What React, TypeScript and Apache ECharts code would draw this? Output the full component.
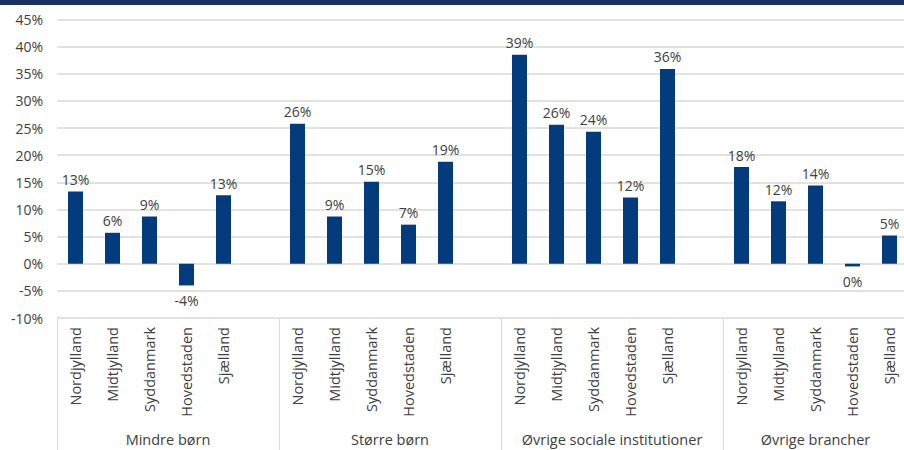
import React, { useEffect, useRef } from "react";
import * as echarts from "echarts";

const groups = ["Mindre børn", "Større børn", "Øvrige sociale institutioner", "Øvrige brancher"];
const regions = ["Nordjylland", "Midtjylland", "Syddanmark", "Hovedstaden", "Sjælland"];
const mindreBorn = [13.3, 5.7, 8.7, -4.0, 12.6];
const storreBorn = [25.8, 8.7, 15.1, 7.2, 18.8];
const ovrigeSociale = [38.5, 25.6, 24.3, 12.2, 35.9];
const ovrigeBrancher = [17.8, 11.5, 14.4, -0.5, 5.2];
const yTicks = { min: -10, max: 45, interval: 5 };

const FONT = "Open Sans";
const TEXT = "#404040";
const GRID = "#d9d9d9";
const BAR = "#043b7c";

export default function App() {
  const ref = useRef<HTMLDivElement>(null);
  useEffect(() => {
    if (!ref.current) return;
    const chart = echarts.init(ref.current, undefined, { renderer: "svg" });
    const valuesByGroup = [mindreBorn, storreBorn, ovrigeSociale, ovrigeBrancher];
    const cats: string[] = [];
    const data: any[] = [];
    const bounds: number[] = [0];
    const centers: number[] = [];
    valuesByGroup.forEach((vals, g) => {
      const start = cats.length;
      regions.forEach((r, i) => {
        cats.push(r);
        const v = vals[i];
        data.push({
          value: v,
          label: { position: v < 0 ? "bottom" : "top", distance: v < 0 ? 8 : 5 },
        });
      });
      if (g < valuesByGroup.length - 1) {
        cats.push("");
        data.push("-");
      }
      const end = cats.length;
      bounds.push(end);
      centers.push((start + end) / 2);
    });
    const total = cats.length;
    chart.setOption({
      animation: false,
      graphic: [
        { type: "rect", shape: { x: 0, y: 0, width: 904, height: 5 }, style: { fill: "#1c3161" } },
      ],
      grid: {
        left: 57,
        top: 19.5,
        width: 851,
        height: 298.5,
        containLabel: false,
        outerBoundsMode: "none",
      },
      xAxis: [
        {
          type: "category",
          data: cats,
          position: "bottom",
          axisLine: { show: false },
          axisTick: { show: false },
          axisLabel: {
            interval: 0,
            rotate: 90,
            margin: 9,
            fontFamily: FONT,
            fontSize: 14.5,
            color: TEXT,
          },
        },
        {
          type: "value",
          min: 0,
          max: total,
          position: "bottom",
          splitLine: { show: false },
          axisLine: { show: false },
          axisTick: {
            show: true,
            customValues: bounds,
            length: 132,
            lineStyle: { color: GRID, width: 1 },
          },
          axisLabel: {
            customValues: centers,
            margin: 114,
            fontFamily: FONT,
            fontSize: 14.5,
            color: TEXT,
            showMinLabel: true,
            showMaxLabel: true,
            formatter: (v: number) => {
              const idx = centers.findIndex((c) => Math.abs(c - v) < 1e-6);
              return idx >= 0 ? groups[idx] : "";
            },
          },
        },
      ],
      yAxis: {
        type: "value",
        min: yTicks.min,
        max: yTicks.max,
        interval: yTicks.interval,
        axisLine: { show: false },
        axisTick: { show: false },
        splitLine: { lineStyle: { color: GRID, width: 1.5 } },
        axisLabel: {
          formatter: "{value}%",
          margin: 14,
          fontFamily: FONT,
          fontSize: 14,
          color: TEXT,
        },
      },
      series: [
        {
          type: "bar",
          xAxisIndex: 0,
          data,
          barWidth: 15,
          itemStyle: { color: BAR },
          label: {
            show: true,
            fontFamily: FONT,
            fontSize: 14,
            color: TEXT,
            formatter: (p: any) => `${Math.round(p.value)}%`,
          },
        },
      ],
    });
    return () => chart.dispose();
  }, []);
  return (
    <div
      ref={ref}
      style={{ position: "absolute", left: 0, top: 0, width: 904, height: 450, background: "#fff" }}
    />
  );
}
